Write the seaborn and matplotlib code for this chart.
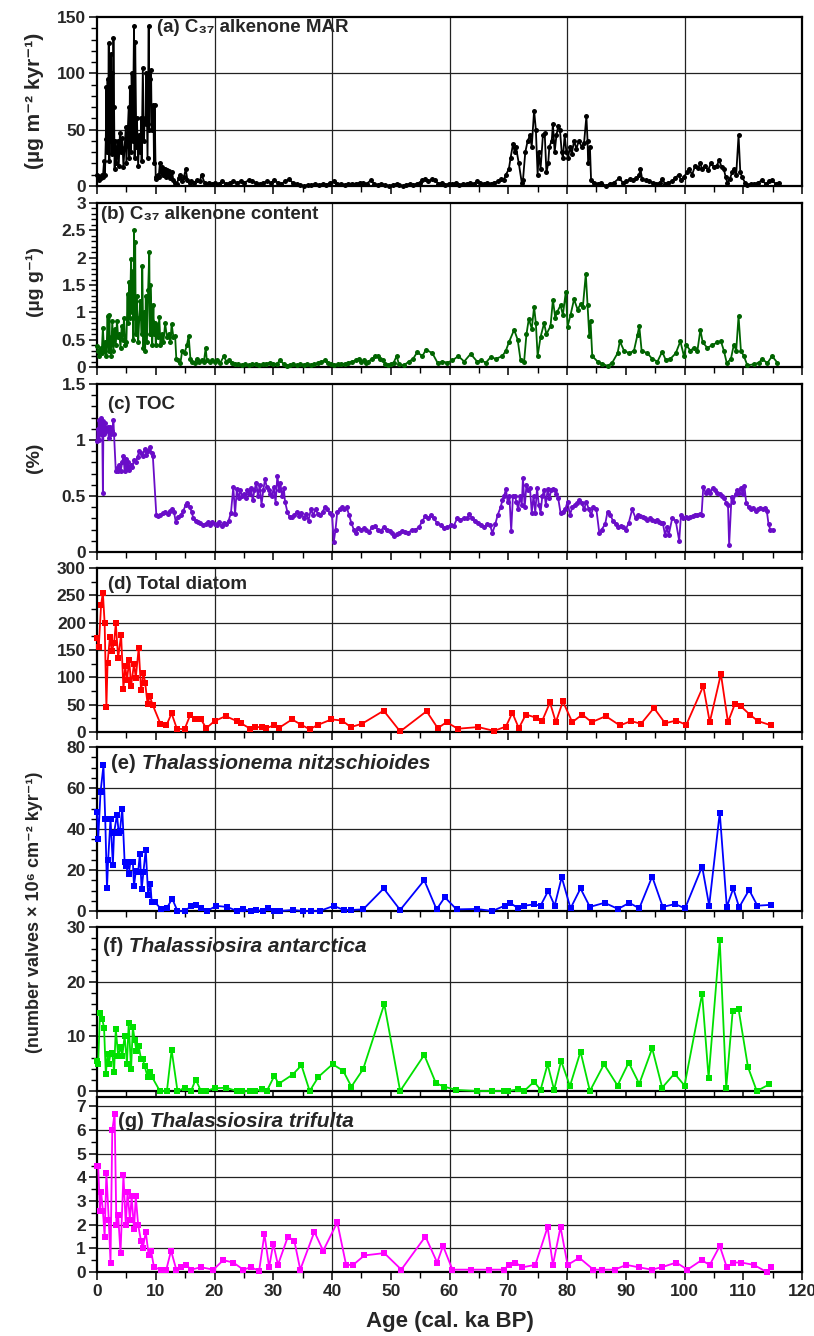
import matplotlib
matplotlib.use("Agg")
import matplotlib.pyplot as plt
import matplotlib.transforms as mtransforms
from matplotlib.ticker import MultipleLocator, FuncFormatter
import seaborn as sns
import pandas as pd

# ---- data ----
# (a) C37 alkenone MAR (ug m-2 kyr-1)
mar_age = [0.0, 0.2, 0.4, 0.6, 0.8, 1.0, 1.2, 1.35, 1.5, 1.6, 1.7, 1.8, 1.9, 2.0, 2.1, 2.2, 2.3, 2.4, 2.5, 2.6,
           2.7, 2.8, 2.9, 3.0, 3.1, 3.3, 3.5, 3.7, 3.9, 4.1, 4.3, 4.5, 4.7, 4.9, 5.0, 5.2, 5.4, 5.5, 5.6, 5.8,
           5.9, 6.1, 6.3, 6.4, 6.5, 6.7, 6.8, 7.0, 7.2, 7.4, 7.5, 7.6, 7.8, 8.0, 8.1, 8.3, 8.4, 8.6, 8.8, 8.9,
           9.0, 9.2, 9.3, 9.4, 9.6, 9.7, 9.8, 10.0, 10.1, 10.3, 10.5, 10.7, 10.9, 11.1, 11.3, 11.5, 11.7, 11.9,
           12.1, 12.3, 12.5, 12.8, 13.0, 13.3, 13.6, 13.9, 14.2, 14.5, 14.8, 15.1, 15.4, 15.8, 16.0, 16.5,
           17.0, 17.5, 17.8, 18.3, 18.5, 19.0, 19.5, 20.0, 20.7, 21.3, 22.0, 22.6, 23.2, 23.8, 24.5, 25.1,
           25.8, 26.4, 27.0, 27.7, 28.3, 29.0, 29.6, 30.2, 30.8, 31.4, 32.0, 32.7, 33.3, 34.0, 34.6, 35.2,
           35.9, 36.5, 37.1, 37.8, 38.4, 39.0, 39.7, 40.3, 40.9, 41.5, 42.2, 42.8, 43.4, 44.0, 44.7, 45.3,
           45.9, 46.6, 47.2, 47.8, 48.4, 49.1, 49.7, 50.3, 51.0, 51.4, 52.0, 52.6, 53.2, 53.8, 54.4, 55.0,
           55.4, 55.9, 56.4, 57.0, 57.6, 58.1, 58.7, 59.3, 59.9, 60.5, 61.1, 61.7, 62.3, 62.9, 63.5, 64.1,
           64.7, 65.2, 65.8, 66.4, 67.0, 67.6, 68.2, 68.8, 69.2, 69.6, 70.1, 70.4, 70.8, 71.1, 71.3, 71.8,
           72.3, 72.5, 72.9, 73.3, 73.7, 74.0, 74.4, 74.7, 75.0, 75.2, 75.5, 75.9, 76.2, 76.5, 76.8, 77.0,
           77.4, 77.6, 77.9, 78.2, 78.5, 78.8, 79.1, 79.3, 79.6, 79.9, 80.2, 80.5, 80.8, 81.2, 81.6, 82.0,
           82.5, 82.9, 83.3, 83.5, 83.6, 83.9, 84.1, 84.6, 85.2, 85.8, 86.6, 87.3, 88.0, 88.9, 89.5, 90.1,
           90.7, 91.3, 91.8, 92.3, 92.5, 92.8, 93.4, 94.0, 94.6, 95.2, 95.8, 96.2, 96.7, 97.2, 97.8, 98.4,
           99.0, 99.4, 99.9, 100.4, 100.8, 101.3, 101.8, 102.3, 102.7, 103.0, 103.5, 104.0, 104.5, 105.0,
           105.5, 105.9, 106.3, 106.7, 107.0, 107.3, 107.7, 108.1, 108.5, 108.8, 109.2, 109.5, 109.8, 110.3,
           110.7, 111.3, 111.9, 112.5, 113.2, 113.8, 114.4, 114.9, 115.5, 116.0]
mar_val = [10, 9, 5, 7, 10, 8, 22, 10, 42, 88, 30, 95, 55, 127, 22, 80, 40, 117, 28, 100,
           30, 131, 70, 15, 40, 20, 40, 18, 47, 30, 43, 17, 35, 52, 20, 45, 70, 25, 88, 30,
           100, 40, 142, 25, 128, 35, 60, 18, 45, 30, 60, 22, 105, 40, 60, 55, 100, 25, 142, 50,
           95, 103, 55, 50, 72, 20, 72, 6, 8, 10, 8, 20, 12, 17, 10, 15, 8, 14,
           10, 13, 7, 12, 5, 3, 2, 7, 10, 4, 8, 15, 5, 3, 4, 3,
           5, 4, 10, 3, 2, 3, 2, 3, 2, 4, 2, 3, 4, 3, 4, 3,
           5, 4, 3, 2, 3, 4, 3, 5, 3, 2, 4, 6, 3, 2, 1, 0,
           1, 1, 2, 1, 2, 1, 3, 4, 2, 2, 1, 2, 2, 2, 3, 3,
           2, 5, 2, 1, 2, 1, 0, 1, 2, 1, 0, 1, 2, 1, 2, 3,
           5, 6, 4, 6, 5, 2, 3, 1, 2, 2, 3, 1, 2, 2, 3, 2,
           4, 3, 2, 3, 2, 3, 4, 6, 5, 10, 15, 25, 37, 30, 35, 20,
           3, 5, 30, 40, 45, 35, 67, 50, 10, 30, 15, 45, 47, 12, 20, 35,
           40, 55, 30, 45, 53, 50, 30, 25, 45, 30, 25, 35, 28, 40, 33, 40,
           35, 38, 62, 40, 20, 35, 5, 3, 2, 3, 0, 2, 3, 7, 3, 4,
           6, 5, 7, 10, 15, 6, 5, 4, 3, 2, 3, 6, 2, 3, 4, 7,
           10, 5, 8, 12, 15, 10, 18, 16, 20, 15, 18, 14, 20, 17,
           18, 23, 17, 15, 8, 3, 6, 12, 15, 10, 45, 12, 8, 3,
           1, 2, 2, 3, 5, 2, 4, 5, 2, 3]

# (b) C37 alkenone content (ug g-1)
cont_age = [0.0, 0.2, 0.4, 0.6, 0.8, 1.0, 1.2, 1.4, 1.6, 1.8, 1.9, 2.0, 2.1, 2.2, 2.3, 2.4, 2.6, 2.8, 3.0, 3.2,
            3.4, 3.6, 3.8, 4.0, 4.2, 4.4, 4.6, 4.8, 5.0, 5.2, 5.3, 5.5, 5.6, 5.8, 5.9, 6.1, 6.2, 6.3, 6.4, 6.5,
            6.6, 6.8, 7.0, 7.2, 7.4, 7.6, 7.7, 7.9, 8.0, 8.2, 8.3, 8.5, 8.7, 8.9, 9.0, 9.1, 9.3, 9.4, 9.6, 9.7,
            9.9, 10.0, 10.2, 10.4, 10.6, 10.8, 11.0, 11.3, 11.6, 11.9, 12.2, 12.5, 12.7, 13.0, 13.3, 13.5, 13.8,
            14.2, 14.5, 14.9, 15.3, 15.6, 15.9, 16.2, 16.6, 17.0, 17.4, 17.8, 18.2, 18.5, 18.7, 19.2, 19.6,
            20.0, 20.5, 21.0, 21.6, 22.0, 22.5, 23.0, 23.5, 24.0, 24.6, 25.2, 25.8, 26.4, 27.0, 27.6, 28.2,
            28.8, 29.4, 30.0, 30.6, 31.2, 31.8, 32.3, 32.8, 33.4, 34.0, 34.6, 35.2, 35.8, 36.4, 37.0, 37.6,
            38.2, 38.8, 39.3, 39.8, 40.4, 41.0, 41.6, 42.2, 42.8, 43.4, 44.0, 44.6, 45.0, 45.4, 45.8, 46.2,
            46.8, 47.4, 47.8, 48.2, 48.6, 49.0, 49.5, 50.0, 50.5, 51.0, 51.4, 52.2, 53.1, 53.8, 54.5, 55.4,
            56.0, 57.1, 58.0, 58.8, 59.6, 60.5, 61.5, 62.5, 63.6, 64.7, 65.4, 66.2, 67.0, 67.9, 69.0, 69.6,
            70.1, 71.0, 71.6, 72.1, 72.7, 73.1, 73.5, 74.0, 74.4, 74.7, 75.0, 75.5, 76.1, 76.5, 77.2, 77.6,
            78.0, 78.3, 78.9, 79.3, 79.8, 80.1, 80.6, 81.2, 81.8, 82.3, 82.7, 83.2, 83.5, 83.8, 84.0, 84.3,
            85.2, 86.0, 86.9, 87.7, 88.6, 89.0, 89.7, 90.6, 91.4, 92.0, 92.3, 92.7, 93.7, 94.5, 95.4, 96.2,
            96.8, 97.6, 98.5, 99.3, 99.9, 100.3, 101.0, 101.6, 102.2, 102.7, 103.1, 103.9, 104.7, 105.6,
            106.2, 106.7, 107.2, 107.9, 108.4, 108.8, 109.2, 109.6, 110.1, 110.7, 111.8, 112.7, 113.2, 114.1,
            114.9, 115.8]
cont_val = [0.38, 0.3, 0.2, 0.35, 0.25, 0.72, 0.3, 0.45, 0.2, 0.93, 0.5, 0.3, 0.95, 0.4, 0.55, 0.2, 0.85, 0.3, 0.7, 0.4,
            0.85, 0.55, 0.6, 0.35, 0.75, 0.5, 0.9, 0.4, 0.45, 1.34, 0.8, 1.55, 0.9, 1.98, 1.0, 1.75, 0.5, 2.51, 0.9, 2.28,
            0.6, 1.3, 0.45, 0.9, 1.2, 0.6, 1.85, 0.35, 1.0, 0.3, 1.3, 0.45, 1.4, 2.1, 0.6, 1.5, 0.85, 0.4, 1.13, 0.6,
            0.8, 0.4, 0.75, 0.55, 0.92, 0.4, 0.6, 0.45, 0.8, 0.55, 0.6, 0.45, 0.79, 0.55, 0.56, 0.15, 0.12,
            0.07, 0.3, 0.25, 0.4, 0.57, 0.15, 0.1, 0.08, 0.15, 0.1, 0.12, 0.1, 0.35, 0.12, 0.1, 0.13,
            0.1, 0.12, 0.08, 0.2, 0.1, 0.12, 0.08, 0.06, 0.05, 0.04, 0.05, 0.03, 0.05, 0.06, 0.04, 0.05,
            0.06, 0.08, 0.05, 0.06, 0.12, 0.05, 0.02, 0.04, 0.05, 0.03, 0.05, 0.04, 0.06, 0.04, 0.05, 0.07,
            0.1, 0.12, 0.08, 0.05, 0.04, 0.05, 0.06, 0.05, 0.08, 0.1, 0.12, 0.15, 0.1, 0.12, 0.08, 0.1,
            0.15, 0.2, 0.2, 0.15, 0.13, 0.06, 0.04, 0.05, 0.08, 0.2, 0.05, 0.03, 0.1, 0.15, 0.27, 0.2,
            0.32, 0.25, 0.07, 0.1, 0.08, 0.12, 0.2, 0.1, 0.24, 0.1, 0.12, 0.08, 0.18, 0.15, 0.2, 0.3,
            0.45, 0.68, 0.5, 0.12, 0.1, 0.6, 0.88, 0.7, 1.1, 0.8, 0.2, 0.55, 0.8, 0.6, 0.75, 1.23,
            0.9, 1.0, 1.13, 0.95, 1.38, 0.74, 0.95, 1.24, 1.05, 1.15, 1.1, 1.7, 1.13, 0.56, 0.85, 0.2,
            0.1, 0.06, 0.02, 0.08, 0.25, 0.47, 0.3, 0.25, 0.3, 0.59, 0.75, 0.3, 0.25, 0.15, 0.1, 0.28,
            0.13, 0.15, 0.25, 0.47, 0.2, 0.4, 0.3, 0.35, 0.3, 0.68, 0.45, 0.35, 0.4, 0.45,
            0.47, 0.3, 0.07, 0.15, 0.41, 0.3, 0.93, 0.3, 0.2, 0.03, 0.05, 0.08, 0.15, 0.07,
            0.2, 0.08]

# (c) TOC (%)
toc_age = [0.0, 0.1, 0.2, 0.3, 0.4, 0.5, 0.6, 0.7, 0.8, 0.9, 1.0, 1.1, 1.2, 1.4, 1.6, 1.8, 2.0, 2.2, 2.4, 2.6,
           2.8, 2.9, 3.2, 3.4, 3.6, 3.8, 4.0, 4.3, 4.5, 4.7, 4.9, 5.1, 5.3, 5.5, 5.8, 6.0, 6.3, 6.6, 6.9, 7.2,
           7.5, 7.8, 8.1, 8.4, 8.7, 9.0, 9.3, 9.5, 10.1, 10.4, 10.8, 11.2, 11.6, 12.0, 12.4, 12.8, 13.1, 13.4,
           13.8, 14.3, 14.7, 15.1, 15.4, 15.8, 16.1, 16.4, 16.8, 17.2, 17.6, 18.0, 18.5, 18.9, 19.3, 19.6,
           20.0, 20.4, 20.8, 21.2, 21.6, 22.0, 22.4, 22.8, 23.2, 23.5, 23.8, 24.1, 24.4, 24.7, 25.0, 25.3,
           25.6, 25.9, 26.2, 26.5, 26.8, 27.1, 27.4, 27.7, 28.0, 28.3, 28.6, 28.9, 29.2, 29.5, 29.8, 30.1,
           30.4, 30.7, 31.0, 31.2, 31.5, 31.8, 32.0, 32.4, 32.8, 33.2, 33.6, 34.0, 34.4, 34.8, 35.2, 35.6,
           36.0, 36.4, 36.8, 37.2, 37.6, 38.0, 38.4, 38.8, 39.2, 39.6, 40.0, 40.3, 40.6, 40.9, 41.3, 41.7,
           42.1, 42.5, 42.9, 43.3, 43.7, 44.1, 44.5, 44.9, 45.4, 45.8, 46.3, 46.8, 47.3, 47.8, 48.3, 48.8,
           49.3, 49.8, 50.2, 50.6, 51.0, 51.4, 51.9, 52.4, 53.0, 53.6, 54.2, 54.8, 55.4, 55.9, 56.4, 56.9,
           57.3, 57.9, 58.5, 59.0, 59.6, 60.2, 60.7, 61.3, 61.8, 62.4, 63.0, 63.4, 63.8, 64.3, 64.9, 65.4,
           65.9, 66.4, 66.9, 67.3, 67.8, 68.2, 68.7, 69.0, 69.3, 69.6, 69.9, 70.2, 70.5, 70.8, 71.1, 71.4,
           71.7, 72.0, 72.3, 72.5, 72.8, 73.1, 73.4, 73.7, 74.0, 74.3, 74.6, 74.9, 75.2, 75.5, 75.8, 76.1,
           76.4, 76.7, 77.0, 77.3, 77.6, 77.9, 78.2, 78.5, 78.9, 79.3, 79.7, 80.1, 80.5, 80.9, 81.3, 81.7,
           82.1, 82.5, 82.9, 83.3, 83.7, 84.1, 84.5, 85.0, 85.5, 85.9, 86.5, 86.9, 87.4, 87.8, 88.3, 88.7,
           89.2, 89.6, 90.0, 90.5, 91.1, 91.7, 92.1, 92.5, 92.9, 93.3, 93.7, 94.1, 94.5, 94.9, 95.3, 95.7,
           96.0, 96.3, 96.7, 97.0, 97.3, 97.9, 98.5, 99.1, 99.4, 99.8, 100.2, 100.6, 101.0, 101.4, 101.8,
           102.2, 102.6, 102.9, 103.2, 103.6, 104.0, 104.4, 104.8, 105.2, 105.6, 106.0, 106.4, 106.8, 107.1,
           107.4, 107.6, 108.0, 108.3, 108.7, 109.0, 109.3, 109.6, 109.9, 110.2, 110.5, 110.9, 111.3, 111.7,
           112.1, 112.5, 112.9, 113.3, 113.7, 114.0, 114.3, 114.6, 115.0]
toc_val = [0.99, 1.1, 1.0, 1.18, 1.0, 1.15, 1.05, 1.2, 1.1, 1.05, 0.53, 1.17, 1.05, 1.15, 1.08, 1.12, 1.02, 1.12, 1.05, 1.08,
           1.18, 1.05, 0.72, 0.75, 0.72, 0.78, 0.72, 0.8, 0.86, 0.72, 0.83, 0.75, 0.8, 0.73, 0.78, 0.76, 0.82, 0.8, 0.85, 0.9,
           0.88, 0.86, 0.92, 0.87, 0.9, 0.94, 0.88, 0.86, 0.33, 0.32, 0.33, 0.35, 0.36, 0.34, 0.37, 0.38, 0.36, 0.27,
           0.31, 0.33, 0.37, 0.42, 0.44, 0.4, 0.36, 0.3, 0.28, 0.27, 0.26, 0.24, 0.25, 0.27, 0.24, 0.27,
           0.25, 0.24, 0.27, 0.23, 0.26, 0.25, 0.28, 0.35, 0.58, 0.34, 0.56, 0.48, 0.55, 0.5, 0.52, 0.48,
           0.55, 0.52, 0.57, 0.46, 0.55, 0.62, 0.5, 0.6, 0.42, 0.55, 0.65, 0.58, 0.55, 0.52, 0.5, 0.58,
           0.44, 0.68, 0.55, 0.62, 0.5, 0.57, 0.45, 0.36, 0.31, 0.31, 0.33, 0.36, 0.32, 0.35, 0.3, 0.34,
           0.28, 0.38, 0.33, 0.38, 0.34, 0.33, 0.36, 0.4, 0.38, 0.35, 0.33, 0.09, 0.2, 0.36, 0.38, 0.4,
           0.38, 0.4, 0.33, 0.26, 0.2, 0.17, 0.21, 0.2, 0.21, 0.2, 0.18, 0.22, 0.23, 0.2, 0.19, 0.22,
           0.2, 0.19, 0.17, 0.14, 0.16, 0.17, 0.19, 0.18, 0.17, 0.2, 0.2, 0.22, 0.28, 0.32, 0.3, 0.33,
           0.3, 0.26, 0.24, 0.21, 0.22, 0.24, 0.23, 0.3, 0.29, 0.3, 0.3, 0.34, 0.3, 0.28, 0.26, 0.24,
           0.22, 0.25, 0.24, 0.17, 0.25, 0.33, 0.4, 0.46, 0.5, 0.56, 0.45, 0.5, 0.19, 0.5, 0.5, 0.45,
           0.38, 0.5, 0.42, 0.66, 0.4, 0.6, 0.55, 0.57, 0.35, 0.5, 0.35, 0.57, 0.42, 0.35, 0.5, 0.55,
           0.42, 0.56, 0.48, 0.55, 0.56, 0.55, 0.52, 0.48, 0.35, 0.36, 0.38, 0.45, 0.33, 0.4, 0.42, 0.44,
           0.46, 0.44, 0.38, 0.45, 0.38, 0.33, 0.4, 0.38, 0.17, 0.2, 0.25, 0.36, 0.33, 0.28, 0.25, 0.22,
           0.23, 0.22, 0.2, 0.26, 0.38, 0.3, 0.33, 0.32, 0.31, 0.3, 0.29, 0.3, 0.29, 0.28, 0.29, 0.27,
           0.26, 0.26, 0.15, 0.22, 0.15, 0.3, 0.28, 0.1, 0.33, 0.3, 0.31, 0.3, 0.31, 0.32, 0.33,
           0.33, 0.34, 0.33, 0.58, 0.53, 0.55, 0.53, 0.57, 0.55, 0.53, 0.52, 0.5, 0.48, 0.44,
           0.42, 0.06, 0.49, 0.45, 0.52, 0.55, 0.53, 0.57, 0.52, 0.59, 0.44, 0.4, 0.38, 0.39,
           0.37, 0.38, 0.39, 0.38, 0.39, 0.37, 0.25, 0.2, 0.2]

# (d) Total diatom
diat_age = [0.0, 0.3, 0.7, 1.0, 1.3, 1.6, 1.8, 2.2, 2.5, 2.9, 3.2, 3.6, 4.1, 4.5, 4.8, 5.1, 5.5, 5.8, 6.3, 6.6,
            7.1, 7.5, 7.9, 8.2, 8.6, 9.0, 9.5, 10.8, 11.8, 12.7, 13.6, 14.9, 15.9, 16.7, 17.7, 18.6, 20.0,
            21.9, 23.8, 24.5, 26.1, 26.9, 28.0, 28.8, 30.1, 30.9, 33.2, 34.8, 36.2, 37.6, 39.9, 41.7, 43.2,
            45.1, 48.8, 51.6, 56.1, 58.0, 59.5, 61.4, 64.9, 67.6, 69.6, 70.7, 71.8, 73.0, 74.8, 75.8, 77.1,
            78.1, 79.3, 80.9, 82.6, 84.2, 86.6, 89.0, 90.9, 92.6, 94.8, 96.7, 98.6, 100.3, 103.2, 104.3,
            106.2, 107.4, 108.6, 109.6, 111.1, 112.5, 114.8]
diat_val = [172, 155, 233, 255, 199, 45, 127, 174, 148, 162, 199, 135, 178, 79, 120, 96, 131, 84, 125, 99,
            154, 76, 108, 90, 52, 65, 49, 15, 12, 34, 6, 5, 32, 23, 23, 7, 20,
            29, 20, 16, 6, 9, 9, 7, 12, 7, 23, 13, 5, 13, 23, 21, 9,
            15, 39, 1, 38, 7, 18, 6, 9, 2, 10, 35, 7, 32, 26, 21, 54,
            18, 56, 18, 32, 18, 29, 12, 20, 15, 44, 16, 21, 13, 84, 18,
            106, 18, 52, 47, 32, 20, 12]

# (e) Thalassionema nitzschioides
tn_age = [0.0, 0.2, 0.6, 1.1, 1.4, 1.7, 1.9, 2.3, 2.7, 2.9, 3.4, 3.7, 3.9, 4.3, 4.7, 4.9, 5.4, 5.7, 6.1, 6.3,
          6.6, 7.0, 7.3, 7.6, 7.9, 8.3, 8.7, 9.1, 9.3, 9.8, 10.9, 11.9, 12.8, 13.7, 15.0, 16.0, 16.8, 17.7,
          18.7, 20.3, 22.1, 23.9, 24.8, 26.2, 27.1, 28.2, 29.1, 30.2, 31.1, 33.3, 35.1, 36.5, 37.9, 40.3,
          42.0, 43.3, 45.3, 48.8, 51.6, 55.7, 57.8, 59.2, 61.2, 64.6, 67.3, 69.4, 70.3, 71.7, 72.7, 74.4,
          75.5, 76.8, 77.9, 79.1, 80.6, 82.3, 83.9, 86.4, 88.7, 90.6, 92.3, 94.5, 96.3, 98.4, 100.1, 103.0,
          104.2, 106.0, 107.2, 108.3, 109.3, 111.0, 112.4, 114.7]
tn_val = [48.5, 35, 58, 71, 45, 11, 25, 45, 22.5, 38, 47, 38, 39, 50, 24, 22, 18, 24, 24, 12,
          19.5, 19, 28, 10.5, 19, 30, 8, 13, 4.5, 4.5, 1, 1.5, 6, 0, 0, 2.5, 3, 1.5,
          0, 2.5, 2, 0, 1, 0, 0.5, 0, 1.3, 0, 0, 0.5, 0, 0, 0, 2.5,
          0.5, 0.5, 0.8, 11, 0.5, 15, 0.8, 6.7, 0.8, 1, 0, 2.6, 4, 1.3, 2.6, 3.2,
          2.6, 9.8, 2.6, 16.5, 1.3, 11, 2, 4, 1, 4, 1.3, 16.8, 2, 3.4, 1.3, 21.7,
          2.6, 48, 2, 11, 1.8, 10.3, 2.6, 3]

# (f) Thalassiosira antarctica
ta_age = [0.0, 0.2, 0.5, 0.9, 1.2, 1.5, 1.8, 2.0, 2.3, 2.6, 2.9, 3.2, 3.6, 4.0, 4.3, 4.7, 5.1, 5.4, 5.8, 6.1,
          6.4, 6.7, 7.1, 7.5, 7.8, 8.1, 8.6, 9.0, 9.4, 10.7, 11.9, 12.7, 13.7, 15.0, 16.0, 16.8, 17.7, 18.5,
          20.0, 22.0, 23.8, 24.6, 26.1, 26.9, 28.1, 28.9, 30.2, 30.9, 33.3, 34.8, 36.2, 37.7, 40.1, 41.9,
          43.3, 45.3, 48.9, 51.6, 55.7, 57.7, 59.1, 61.1, 64.6, 67.2, 69.2, 70.0, 71.6, 72.7, 74.4, 75.5,
          76.7, 77.8, 79.0, 80.5, 82.3, 83.9, 86.3, 88.6, 90.5, 92.3, 94.5, 96.2, 98.3, 100.0, 103.0, 104.1,
          106.0, 107.1, 108.2, 109.2, 110.8, 112.3, 114.4]
ta_val = [5.4, 4.9, 14.3, 13.1, 11.6, 3.1, 6.8, 5.0, 6.8, 7.0, 3.4, 11.4, 6.4, 8.0, 6.4, 10.1, 5.0, 12.5, 4.0, 11.7,
          9.4, 7.4, 8.2, 5.8, 5.8, 4.6, 2.6, 3.4, 2.5, 0, 0, 7.5, 0, 0.6, 0, 2.1, 0, 0,
          0.5, 0.6, 0, 0, 0, 0, 0.3, 0, 2.8, 1.3, 3.0, 4.7, 0, 2.6, 4.9, 3.7,
          0.8, 4.0, 15.9, 0, 6.6, 1.4, 0.8, 0.2, 0, 0, 0, 0, 0.3, 0, 1.7, 0.2,
          4.9, 0.2, 5.5, 0.9, 7.2, 0, 4.9, 1.0, 5.2, 1.3, 7.8, 0.6, 3.2, 1.0, 17.8, 2.4,
          27.6, 0.6, 14.6, 15.0, 4.4, 0, 1.2]

# (g) Thalassiosira trifulta
tt_age = [0.0, 0.2, 0.5, 0.7, 1.0, 1.3, 1.6, 2.0, 2.3, 2.6, 3.0, 3.3, 3.6, 4.0, 4.5, 4.9, 5.2, 5.6, 5.9, 6.3,
          6.6, 7.0, 7.5, 7.8, 8.3, 8.8, 9.2, 9.7, 10.9, 11.8, 12.6, 13.5, 14.3, 15.2, 16.0, 17.7, 19.8,
          21.5, 23.2, 24.9, 26.2, 27.6, 28.5, 29.3, 30.0, 30.8, 32.5, 33.6, 34.6, 37.0, 38.5, 40.9, 42.4,
          43.6, 45.5, 48.9, 51.8, 55.9, 57.9, 58.9, 60.5, 63.7, 66.8, 69.2, 70.2, 71.2, 72.4, 74.6, 76.7,
          77.6, 78.9, 80.1, 82.1, 84.5, 85.9, 88.1, 90.1, 92.2, 94.4, 96.1, 98.6, 100.5, 102.9, 104.3,
          106.0, 107.2, 108.3, 109.7, 111.8, 114.0, 114.8]
tt_val = [4.5, 4.5, 2.6, 3.4, 2.6, 1.5, 4.2, 2.2, 0.4, 6.0, 6.7, 2.0, 2.4, 0.8, 4.1, 2.0, 3.4, 2.2, 3.2, 1.8,
          3.2, 2.0, 1.3, 1.0, 1.7, 0.7, 0.9, 0.2, 0.1, 0.1, 0.9, 0.1, 0.2, 0.3, 0.1, 0.2, 0.1,
          0.5, 0.4, 0.1, 0.2, 0.05, 1.6, 0.2, 1.2, 0.3, 1.5, 1.3, 0.1, 1.7, 0.9, 2.1, 0.3,
          0.3, 0.7, 0.8, 0.1, 1.5, 0.4, 1.1, 0.1, 0.1, 0.1, 0.1, 0.3, 0.4, 0.2, 0.3, 1.9,
          0.3, 1.9, 0.3, 0.6, 0.1, 0.1, 0.1, 0.3, 0.2, 0.1, 0.2, 0.4, 0.1, 0.5, 0.3,
          1.1, 0.2, 0.4, 0.4, 0.3, 0.0, 0.2]

W, H = 814, 1336
left_px, right_px = 97, 802
panels = [
    # age, value, colour, marker, (top, bottom px), ylim, major, minor, grid, title, italic part, title y, title x
    (mar_age, mar_val, "black", "o", (17, 186), (0, 150), 50, 10, True,
     "(a) C\u2083\u2087 alkenone MAR", None, 0.94, 0.085),
    (cont_age, cont_val, "#006400", "o", (203, 367), (0, 3), 0.5, 0.1, False,
     "(b) C\u2083\u2087 alkenone content", None, 0.93, 0.005),
    (toc_age, toc_val, "#6a0dc8", "o", (384, 552), (0, 1.5), 0.5, 0.1, True,
     "(c) TOC", None, 0.88, 0.015),
    (diat_age, diat_val, "#ff0000", "s", (568, 732), (0, 300), 50, 25, True,
     "(d) Total diatom", None, 0.9, 0.015),
    (tn_age, tn_val, "#0000ff", "s", (747, 911), (0, 80), 20, 5, True,
     "(e)", "Thalassionema nitzschioides", 0.9, 0.02),
    (ta_age, ta_val, "#00e000", "s", (927, 1091), (0, 30), 10, 2, True,
     "(f)", "Thalassiosira antarctica", 0.88, 0.008),
    (tt_age, tt_val, "#ff00ff", "s", (1097, 1272), (0, 7.4), 1, 0.5, True,
     "(g)", "Thalassiosira trifulta", 0.86, 0.03),
]

sns.set_style("ticks")
plt.rcParams["font.family"] = ["Liberation Sans Narrow", "Liberation Sans", "DejaVu Sans"]
plt.rcParams["font.weight"] = "bold"
plt.rcParams["axes.labelweight"] = "bold"

fig = plt.figure(figsize=(W / 100, H / 100), dpi=100)
fmt = FuncFormatter(lambda v, pos: f"{v:g}")

for i, (age, val, col, mk, (top, bot), ylim, major, minor, grid, title, ital, ty, tx) in enumerate(panels):
    ax = fig.add_axes([left_px / W, 1 - bot / H, (right_px - left_px) / W, (bot - top) / H])
    df = pd.DataFrame({"age": age, "val": val})
    ms = 3.6 if mk == "o" else 4.6
    sns.lineplot(data=df, x="age", y="val", ax=ax, color=col, marker=mk, markersize=ms,
                 markeredgewidth=0, linewidth=1.3, estimator=None, sort=False, clip_on=False, zorder=3)
    ax.set_xlim(0, 120)
    ax.set_ylim(*ylim)
    ax.set_xlabel("")
    ax.set_ylabel("")
    ax.xaxis.set_major_locator(MultipleLocator(10))
    ax.xaxis.set_minor_locator(MultipleLocator(5))
    ax.yaxis.set_major_locator(MultipleLocator(major))
    ax.yaxis.set_minor_locator(MultipleLocator(minor))
    ax.yaxis.set_major_formatter(fmt)
    ax.tick_params(axis="both", which="major", direction="out", length=6, width=1.1,
                   labelsize=12.5, color="black")
    ax.tick_params(axis="both", which="minor", direction="out", length=4, width=1, color="black")
    ax.tick_params(axis="y", pad=2)
    if i < len(panels) - 1:
        ax.tick_params(axis="x", labelbottom=False)
    else:
        ax.xaxis.set_major_formatter(fmt)
        ax.tick_params(axis="x", pad=3)
        fig.canvas.draw()
        # nudge the last label ("120") inward so it stays inside the canvas
        last = ax.get_xticklabels()[-1]
        last.set_transform(last.get_transform() + mtransforms.ScaledTranslation(-6 / 100, 0, fig.dpi_scale_trans))
    for lab in ax.get_xticklabels() + ax.get_yticklabels():
        lab.set_fontweight("bold")
    for x in range(20, 120, 20):
        ax.axvline(x, color="#222222", lw=0.9, zorder=1)
    if grid:
        yv = major
        while yv < ylim[1] - 1e-9:
            ax.axhline(yv, color="#222222", lw=0.9, zorder=1)
            yv += major
    for s in ax.spines.values():
        s.set_visible(True)
        s.set_linewidth(1.6)
        s.set_color("black")
    t = ax.text(tx, ty, title, transform=ax.transAxes, fontsize=13.5 if ital is None else 14.5,
                fontweight="bold", ha="left", va="center", zorder=5)
    if ital:
        ax.annotate(" " + ital, xy=(1, 0), xycoords=t, fontsize=15, fontweight="bold",
                    style="italic", ha="left", va="bottom", zorder=5)

# y-axis titles
fig.text(35 / W, 1 - 101 / H, "(\u00b5g m\u207b\u00b2 kyr\u207b\u00b9)", rotation=90, ha="center", va="center",
         fontsize=15, fontweight="bold")
fig.text(35 / W, 1 - 282 / H, "(\u00b5g g\u207b\u00b9)", rotation=90, ha="center", va="center",
         fontsize=14, fontweight="bold")
fig.text(35 / W, 1 - 458 / H, "(%)", rotation=90, ha="center", va="center",
         fontsize=14, fontweight="bold")
fig.text(35 / W, 1 - 912 / H, "(number valves \u00d7 10\u2076 cm\u207b\u00b2 kyr\u207b\u00b9)", rotation=90,
         ha="center", va="center", fontsize=13, fontweight="bold")
fig.text(450 / W, 1 - 1322 / H, "Age (cal. ka BP)", ha="center", va="center",
         fontsize=16, fontweight="bold")

fig.savefig("out.png", dpi=100)
